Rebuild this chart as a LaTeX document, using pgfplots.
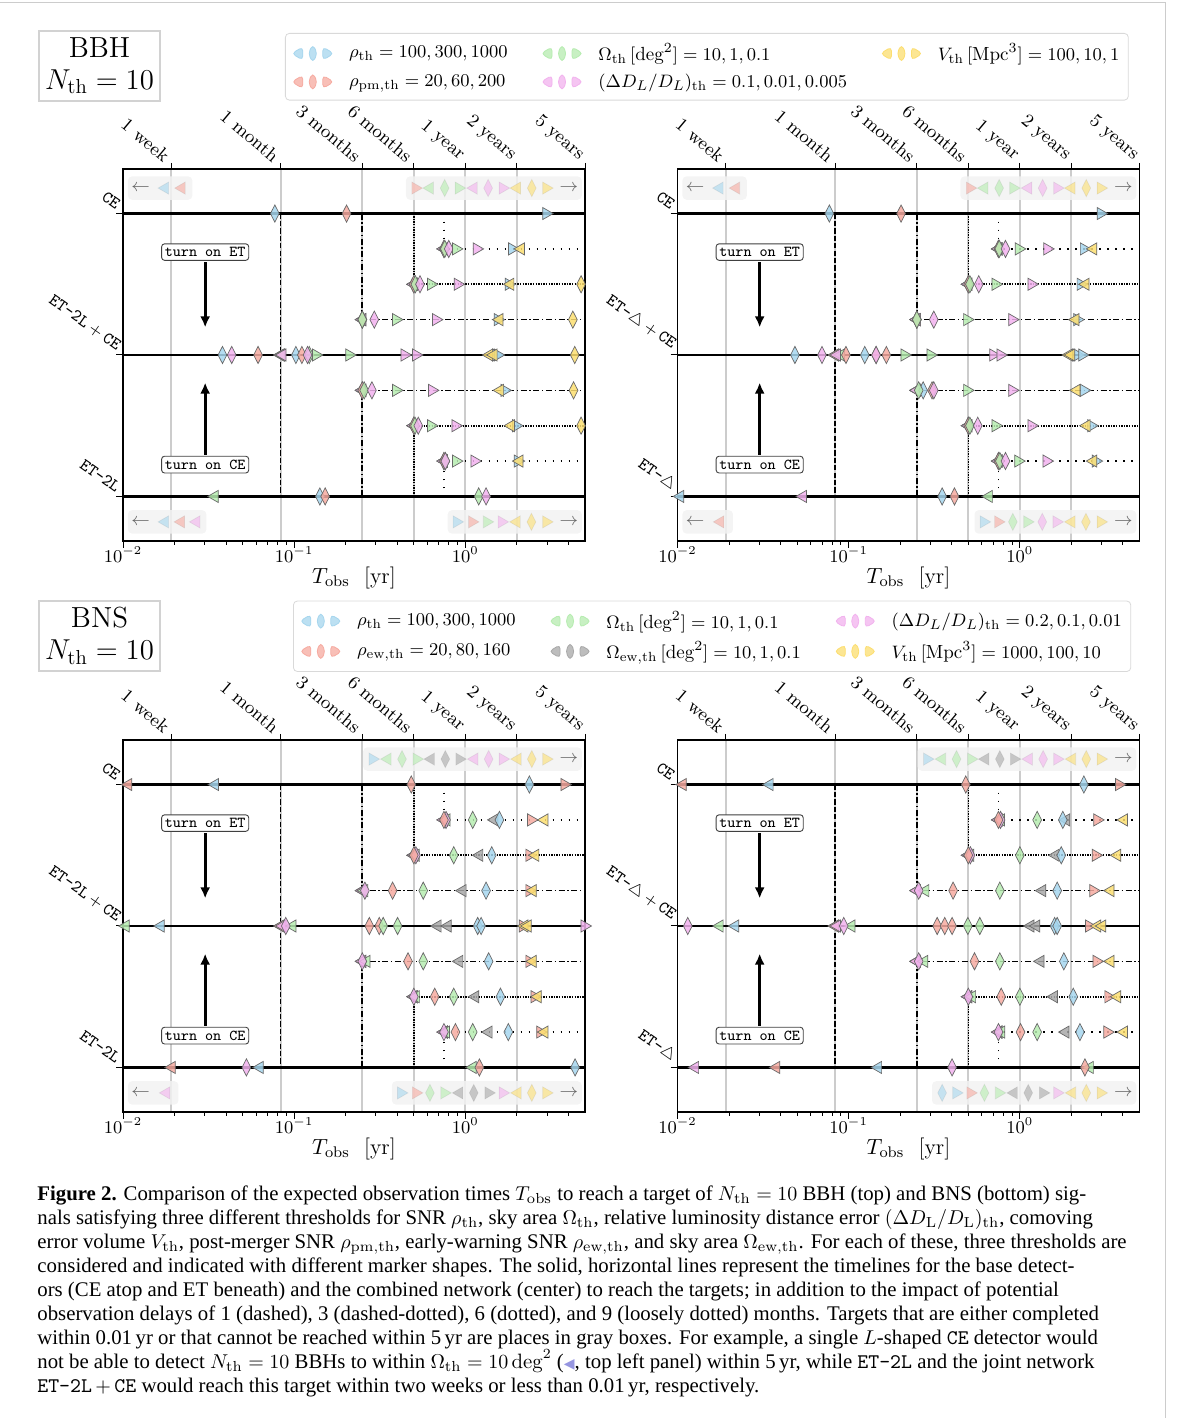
\documentclass[border=0pt]{standalone}
\usepackage{fontspec}
\usepackage{pgfplots}
\pgfplotsset{compat=1.18}
\usetikzlibrary{arrows.meta}
\newfontfamily\capfont{Liberation Serif}
\newfontfamily\djv{DejaVu Sans}

\definecolor{cB}{RGB}{166,214,238}
\definecolor{cR}{RGB}{246,170,160}
\definecolor{cG}{RGB}{182,236,176}
\definecolor{cP}{RGB}{242,178,238}
\definecolor{cY}{RGB}{252,222,112}
\definecolor{cK}{RGB}{168,168,168}
\definecolor{edgec}{RGB}{105,105,105}
\definecolor{gridc}{RGB}{204,204,204}
\definecolor{boxc}{RGB}{242,242,242}
\definecolor{capmk}{RGB}{150,150,225}

\newcommand\icon[1]{%
  \fill[#1, fill opacity=0.75] (0pt,0pt) -- (5.5pt,3.3pt) -- (5.5pt,-3.3pt) -- cycle;
  \fill[#1, fill opacity=0.75] (10.5pt,4.5pt) -- (12.8pt,0pt) -- (10.5pt,-4.5pt) -- (8.2pt,0pt) -- cycle;
  \fill[#1, fill opacity=0.75] (15.5pt,3.3pt) -- (21pt,0pt) -- (15.5pt,-3.3pt) -- cycle;}

\tikzset{tbox/.style={draw=black!75, rounded corners=1.5pt, fill=white, line width=0.45pt,
  inner xsep=1.6pt, inner ysep=1.8pt, font=\ttfamily\fontsize{7.6}{8}\selectfont}}

\pgfplotsset{
  mkbase/.style={only marks, forget plot},
  shl/.style={mark=triangle*, mark size=3.5pt, every mark/.append style={rotate=90}},
  shd/.style={mark=diamond*, mark size=4.3pt, every mark/.append style={xscale=0.68}},
  shr/.style={mark=triangle*, mark size=3.5pt, every mark/.append style={rotate=-90}},
  mcol/.style={every mark/.append style={fill=#1, draw=edgec, line width=0.35pt, fill opacity=0.85}},
  bl/.style={mkbase,shl,mcol=cB}, bd/.style={mkbase,shd,mcol=cB}, br/.style={mkbase,shr,mcol=cB},
  rl/.style={mkbase,shl,mcol=cR}, rd/.style={mkbase,shd,mcol=cR}, rr/.style={mkbase,shr,mcol=cR},
  gl/.style={mkbase,shl,mcol=cG}, gd/.style={mkbase,shd,mcol=cG}, gr/.style={mkbase,shr,mcol=cG},
  pl/.style={mkbase,shl,mcol=cP}, pd/.style={mkbase,shd,mcol=cP}, pr/.style={mkbase,shr,mcol=cP},
  yl/.style={mkbase,shl,mcol=cY}, yd/.style={mkbase,shd,mcol=cY}, yr/.style={mkbase,shr,mcol=cY},
  kl/.style={mkbase,shl,mcol=cK}, kd/.style={mkbase,shd,mcol=cK}, kr/.style={mkbase,shr,mcol=cK},
  boxmk/.style={every mark/.append style={draw opacity=0.12, fill opacity=0.6}},
  topax/.style={scale only axis, width=231pt, height=186pt, anchor=south west,
    xmin=-2, xmax=0.69897, ymin=0, ymax=1,
    axis x line*=top, axis y line=none,
    xtick={-1.71753,-1.07918,-0.60206,-0.30103,0,0.30103,0.69897},
    xticklabels={1 week,1 month,3 months,6 months,1 year,2 years,5 years},
    xticklabel style={rotate=-40, anchor=south east, inner sep=0pt, xshift=-3pt, yshift=-3pt, font=\fontsize{9.3}{10}\selectfont},
    xmajorgrids, major grid style={gridc, line width=0.9pt},
    tick align=outside, major tick length=3pt, tick style={black, line width=0.5pt},
    axis line style={line width=0.6pt}},
  mainax/.style={scale only axis, width=231pt, height=186pt, anchor=south west,
    xmin=-2, xmax=0.69897, ymin=-5.26, ymax=5.26,
    xtick={-2,-1,0}, xticklabels={$10^{-2}$,$10^{-1}$,$10^{0}$},
    minor xtick={-1.69897,-1.52288,-1.39794,-1.30103,-1.22185,-1.15490,-1.09691,-1.04576,
      -0.69897,-0.52288,-0.39794,-0.30103,-0.22185,-0.15490,-0.09691,-0.04576,0.30103,0.47712,0.60206},
    xtick pos=left, ytick pos=left, ytick={-4,0,4},
    tick align=outside, major tick length=3.5pt, minor tick length=2pt,
    tick style={black, line width=0.5pt}, axis line style={line width=0.6pt},
    xticklabel style={font=\fontsize{9}{10}\selectfont, yshift=4pt},
    yticklabel style={rotate=-35, anchor=south east, inner sep=1pt, font=\ttfamily\fontsize{8.5}{9}\selectfont},
    xlabel={$T_{\mathrm{obs}}$\ \ [yr]},
    xlabel style={font=\fontsize{11}{12}\selectfont, at={(axis description cs:0.5,-0.1)}, anchor=center},
    legend columns=3, legend cell align=left},
  legbox/.style={legend style={anchor=north west, draw=gray!30, rounded corners=2pt, fill=white,
    font=\fontsize{9.5}{11}\selectfont, inner xsep=3pt, inner ysep=3.5pt, row sep=2pt, column sep=6pt,
    nodes={inner sep=1.5pt}, /tikz/every even column/.append style={column sep=15pt}}},
}

\newcommand\mkp[2]{\addplot[#1] coordinates {#2};}
\newcommand\bmk[3]{\addplot[#1,boxmk] coordinates {(#2,#3)};}
\newcommand\gbox[4]{\fill[boxc, fill opacity=0.85, rounded corners=2pt] (axis cs:#1,#3) rectangle (axis cs:#2,#4);}
\newcommand\larr[1]{\node[text=black!60, font=\fontsize{9}{9}\selectfont, inner sep=0pt] at (axis cs:-1.897,#1) {$\leftarrow$};}
\newcommand\rarr[1]{\node[text=black!60, font=\fontsize{9}{9}\selectfont, inner sep=0pt] at (axis cs:0.604,#1) {$\rightarrow$};}

\newcommand\panellines{%
  \addplot[forget plot, no marks, black, line width=1.1pt] coordinates {(-2,4) (0.69897,4)};
  \addplot[forget plot, no marks, black, line width=1.1pt] coordinates {(-2,0) (0.69897,0)};
  \addplot[forget plot, no marks, black, line width=1.1pt] coordinates {(-2,-4) (0.69897,-4)};
  \addplot[forget plot, no marks, black, line width=0.8pt, dash pattern=on 2.6pt off 1.1pt] coordinates {(-1.07918,4) (-1.07918,-4)};
  \addplot[forget plot, no marks, black, line width=0.8pt, dash pattern=on 3pt off 1.3pt on 0.7pt off 1.3pt] coordinates {(-0.60206,4) (-0.60206,1) (0.69897,1)};
  \addplot[forget plot, no marks, black, line width=0.8pt, dash pattern=on 3pt off 1.3pt on 0.7pt off 1.3pt] coordinates {(-0.60206,-4) (-0.60206,-1) (0.69897,-1)};
  \addplot[forget plot, no marks, black, line width=0.8pt, dash pattern=on 0.7pt off 0.6pt] coordinates {(-0.30103,4) (-0.30103,2) (0.69897,2)};
  \addplot[forget plot, no marks, black, line width=0.8pt, dash pattern=on 0.7pt off 0.6pt] coordinates {(-0.30103,-4) (-0.30103,-2) (0.69897,-2)};
  \addplot[forget plot, no marks, black, line width=0.9pt, dash pattern=on 0.8pt off 3.2pt] coordinates {(-0.12494,4) (-0.12494,3) (0.69897,3)};
  \addplot[forget plot, no marks, black, line width=0.9pt, dash pattern=on 0.8pt off 3.2pt] coordinates {(-0.12494,-4) (-0.12494,-3) (0.69897,-3)};
}
\newcommand\turnon{%
  \node[tbox] at (axis cs:-1.52,2.91) {turn on ET};
  \draw[line width=1.4pt, -{Latex[length=5.5pt,width=5pt]}] (axis cs:-1.52,2.62) -- (axis cs:-1.52,0.78);
  \node[tbox] at (axis cs:-1.52,-3.1) {turn on CE};
  \draw[line width=1.4pt, -{Latex[length=5.5pt,width=5pt]}] (axis cs:-1.52,-2.82) -- (axis cs:-1.52,-0.78);
}

\begin{document}
\begin{tikzpicture}
\useasboundingbox (0,0) rectangle (591pt,709pt);
\draw[gray!40, line width=0.5pt] (0,707.5pt) -- (582.5pt,707.5pt) -- (582.5pt,0);

% title boxes
\node[draw=gray!35, line width=0.6pt, minimum width=60.5pt, minimum height=35pt, align=center,
  font=\fontsize{14.5}{16}\selectfont, inner sep=0pt] at (49.75pt,676pt) {BBH\\$N_{\mathrm{th}} = 10$};
\node[draw=gray!35, line width=0.6pt, minimum width=60.5pt, minimum height=35pt, align=center,
  font=\fontsize{14.5}{16}\selectfont, inner sep=0pt] at (49.75pt,391pt) {BNS\\$N_{\mathrm{th}} = 10$};

% ================= TOP LEFT (BBH, ET-2L + CE) =================
\begin{axis}[topax, at={(61.5pt,438.5pt)}]
\end{axis}
\begin{axis}[mainax, at={(61.5pt,438.5pt)},
  yticklabels={ET-2L, ET-2L${}+{}$CE, CE},
  legbox, legend style={at={(0.3506,1.3656)}}]
\addlegendimage{legend image code/.code={\icon{cB}}}\addlegendentry{$\rho_{\mathrm{th}} = 100, 300, 1000$}
\addlegendimage{legend image code/.code={\icon{cG}}}\addlegendentry{$\Omega_{\mathrm{th}}\,[\mathrm{deg}^2] = 10, 1, 0.1$}
\addlegendimage{legend image code/.code={\icon{cY}}}\addlegendentry{$V_{\mathrm{th}}\,[\mathrm{Mpc}^3] = 100, 10, 1$}
\addlegendimage{legend image code/.code={\icon{cR}}}\addlegendentry{$\rho_{\mathrm{pm,th}} = 20, 60, 200$}
\addlegendimage{legend image code/.code={\icon{cP}}}\addlegendentry{$(\Delta D_L/D_L)_{\mathrm{th}} = 0.1, 0.01, 0.005$}
\gbox{-1.971}{-1.595}{4.39}{5.05}\gbox{-0.347}{0.680}{4.39}{5.05}
\gbox{-1.971}{-1.513}{-5.05}{-4.39}\gbox{-0.103}{0.680}{-5.05}{-4.39}
\larr{4.72}\rarr{4.72}\larr{-4.72}\rarr{-4.72}
\panellines
\turnon
\bmk{bl}{-1.754}{4.72}\bmk{rl}{-1.657}{4.72}
\bmk{rr}{-0.292}{4.72}\bmk{gl}{-0.207}{4.72}\bmk{gd}{-0.121}{4.72}\bmk{gr}{-0.039}{4.72}\bmk{pl}{0.049}{4.72}
\bmk{pd}{0.133}{4.72}\bmk{pr}{0.218}{4.72}\bmk{yl}{0.302}{4.72}\bmk{yd}{0.388}{4.72}\bmk{yr}{0.472}{4.72}
\bmk{bl}{-1.754}{-4.72}\bmk{rl}{-1.661}{-4.72}\bmk{pl}{-1.571}{-4.72}
\bmk{br}{-0.051}{-4.72}\bmk{rr}{0.039}{-4.72}\bmk{gr}{0.125}{-4.72}\bmk{pr}{0.212}{-4.72}
\bmk{yl}{0.300}{-4.72}\bmk{yd}{0.386}{-4.72}\bmk{yr}{0.472}{-4.72}
\mkp{bl}{(-0.125,3) (-0.301,2) (-0.602,1) (-1.079,0) (-0.602,-1) (-0.301,-2) (-0.125,-3)}
\mkp{rl}{(-0.125,3) (-0.301,2) (-0.602,1) (-1.079,0) (-0.602,-1) (-0.301,-2) (-0.125,-3)}
\mkp{gl}{(-0.125,3) (-0.301,2) (-0.602,1) (-1.074,0) (-0.602,-1) (-0.301,-2) (-0.125,-3) (-1.464,-4)}
\mkp{pl}{(-0.125,3) (-0.301,2) (-0.602,1) (-1.068,0) (-0.602,-1) (-0.301,-2) (-0.125,-3)}
\mkp{bd}{(-1.113,4) (-0.125,3) (-0.301,2) (-0.602,1) (-1.419,0) (-0.990,0) (-0.602,-1) (-0.301,-2) (-0.125,-3) (-0.850,-4)}
\mkp{rd}{(-0.694,4) (-0.125,3) (-0.301,2) (-0.602,1) (-1.211,0) (-0.955,0) (-0.602,-1) (-0.301,-2) (-0.125,-3) (-0.819,-4)}
\mkp{gd}{(-0.120,3) (-0.292,2) (-0.602,1) (-0.912,0) (-0.591,-1) (-0.294,-2) (-0.117,-3) (0.078,-4)}
\mkp{pd}{(-0.097,3) (-0.265,2) (-0.532,1) (-1.365,0) (-0.922,0) (-0.546,-1) (-0.275,-2) (-0.117,-3) (0.121,-4)}
\mkp{gr}{(-0.055,3) (-0.201,2) (-0.405,1) (-0.873,0) (-0.678,0) (-0.405,-1) (-0.201,-2) (-0.055,-3)}
\mkp{pr}{(0.066,3) (-0.045,2) (-0.172,1) (-0.355,0) (-0.288,0) (-0.195,-1) (-0.058,-2) (0.053,-3)}
\mkp{br}{(0.472,4) (0.273,3) (0.253,2) (0.189,1) (0.179,0) (0.189,0) (0.228,-1) (0.296,-2) (0.306,-3)}
\mkp{yl}{(0.325,3) (0.263,2) (0.199,1) (0.140,0) (0.165,0) (0.203,-1) (0.267,-2) (0.316,-3)}
\mkp{yd}{(0.676,2) (0.628,1) (0.639,0) (0.632,-1) (0.676,-2)}
\end{axis}

% ================= TOP RIGHT (BBH, ET-tri + CE) =================
\begin{axis}[topax, at={(338.75pt,438.5pt)}]
\end{axis}
\begin{axis}[mainax, at={(338.75pt,438.5pt)},
  yticklabels={ET-$\triangle$, ET-$\triangle{}+{}$CE, CE}]
\gbox{-1.971}{-1.595}{4.39}{5.05}\gbox{-0.347}{0.680}{4.39}{5.05}
\gbox{-1.971}{-1.676}{-5.05}{-4.39}\gbox{-0.265}{0.680}{-5.05}{-4.39}
\larr{4.72}\rarr{4.72}\larr{-4.72}\rarr{-4.72}
\panellines
\turnon
\bmk{bl}{-1.754}{4.72}\bmk{rl}{-1.657}{4.72}
\bmk{rr}{-0.292}{4.72}\bmk{gl}{-0.207}{4.72}\bmk{gd}{-0.121}{4.72}\bmk{gr}{-0.039}{4.72}\bmk{pl}{0.049}{4.72}
\bmk{pd}{0.133}{4.72}\bmk{pr}{0.218}{4.72}\bmk{yl}{0.302}{4.72}\bmk{yd}{0.388}{4.72}\bmk{yr}{0.472}{4.72}
\bmk{rl}{-1.750}{-4.72}
\bmk{br}{-0.211}{-4.72}\bmk{rr}{-0.127}{-4.72}\bmk{gd}{-0.041}{-4.72}\bmk{gr}{0.043}{-4.72}\bmk{pd}{0.131}{-4.72}
\bmk{pr}{0.214}{-4.72}\bmk{yl}{0.302}{-4.72}\bmk{yd}{0.386}{-4.72}\bmk{yr}{0.472}{-4.72}
\mkp{bl}{(-0.125,3) (-0.301,2) (-0.602,1) (-1.079,0) (-0.602,-1) (-0.301,-2) (-0.125,-3) (-1.984,-4)}
\mkp{rl}{(-0.125,3) (-0.301,2) (-0.602,1) (-1.079,0) (-0.602,-1) (-0.301,-2) (-0.125,-3)}
\mkp{gl}{(-0.125,3) (-0.301,2) (-0.602,1) (-1.045,0) (-0.602,-1) (-0.301,-2) (-0.125,-3) (-0.181,-4)}
\mkp{pl}{(-0.125,3) (-0.301,2) (-0.602,1) (-1.068,0) (-0.602,-1) (-0.301,-2) (-0.125,-3) (-1.267,-4)}
\mkp{bd}{(-1.113,4) (-0.125,3) (-0.301,2) (-0.602,1) (-1.314,0) (-0.906,0) (-0.565,-1) (-0.301,-2) (-0.125,-3) (-0.454,-4)}
\mkp{rd}{(-0.694,4) (-0.125,3) (-0.301,2) (-0.602,1) (-1.016,0) (-0.840,0) (-0.780,0) (-0.513,-1) (-0.301,-2) (-0.125,-3) (-0.382,-4)}
\mkp{gd}{(-0.120,3) (-0.292,2) (-0.602,1) (-0.591,-1) (-0.292,-2) (-0.117,-3)}
\mkp{pd}{(-0.084,3) (-0.240,2) (-0.503,1) (-1.156,0) (-0.840,0) (-0.503,-1) (-0.246,-2) (-0.084,-3)}
\mkp{gr}{(-0.006,3) (-0.142,2) (-0.308,1) (-0.674,0) (-0.522,0) (-0.308,-1) (-0.142,-2) (-0.010,-3)}
\mkp{pr}{(0.160,3) (0.068,2) (-0.045,1) (-0.156,0) (-0.113,0) (-0.045,-1) (0.068,-2) (0.156,-3)}
\mkp{br}{(0.472,4) (0.374,3) (0.355,2) (0.335,1) (0.335,0) (0.364,0) (0.374,-1) (0.417,-2) (0.443,-3)}
\mkp{yl}{(0.429,3) (0.384,2) (0.325,1) (0.287,0) (0.300,0) (0.331,-1) (0.390,-2) (0.429,-3)}
\end{axis}

% ================= BOTTOM LEFT (BNS, ET-2L + CE) =================
\begin{axis}[topax, at={(61.5pt,153pt)}]
\end{axis}
\begin{axis}[mainax, at={(61.5pt,153pt)},
  yticklabels={ET-2L, ET-2L${}+{}$CE, CE},
  legbox, legend style={at={(0.368,1.3747)}}]
\addlegendimage{legend image code/.code={\icon{cB}}}\addlegendentry{$\rho_{\mathrm{th}} = 100, 300, 1000$}
\addlegendimage{legend image code/.code={\icon{cG}}}\addlegendentry{$\Omega_{\mathrm{th}}\,[\mathrm{deg}^2] = 10, 1, 0.1$}
\addlegendimage{legend image code/.code={\icon{cP}}}\addlegendentry{$(\Delta D_L/D_L)_{\mathrm{th}} = 0.2, 0.1, 0.01$}
\addlegendimage{legend image code/.code={\icon{cR}}}\addlegendentry{$\rho_{\mathrm{ew,th}} = 20, 80, 160$}
\addlegendimage{legend image code/.code={\icon{cK}}}\addlegendentry{$\Omega_{\mathrm{ew,th}}\,[\mathrm{deg}^2] = 10, 1, 0.1$}
\addlegendimage{legend image code/.code={\icon{cY}}}\addlegendentry{$V_{\mathrm{th}}\,[\mathrm{Mpc}^3] = 1000, 100, 10$}
\gbox{-0.597}{0.680}{4.39}{5.05}
\gbox{-1.971}{-1.676}{-5.05}{-4.39}\gbox{-0.429}{0.680}{-5.05}{-4.39}
\rarr{4.72}\larr{-4.72}\rarr{-4.72}
\panellines
\turnon
\bmk{br}{-0.542}{4.72}\bmk{gl}{-0.454}{4.72}\bmk{gd}{-0.370}{4.72}\bmk{gr}{-0.285}{4.72}\bmk{kl}{-0.201}{4.72}
\bmk{kd}{-0.117}{4.72}\bmk{kr}{-0.035}{4.72}\bmk{pl}{0.053}{4.72}\bmk{pd}{0.136}{4.72}\bmk{pr}{0.218}{4.72}
\bmk{yl}{0.306}{4.72}\bmk{yd}{0.388}{4.72}\bmk{yr}{0.472}{4.72}
\bmk{pl}{-1.747}{-4.72}
\bmk{br}{-0.376}{-4.72}\bmk{rr}{-0.289}{-4.72}\bmk{gd}{-0.207}{-4.72}\bmk{gr}{-0.123}{-4.72}\bmk{kl}{-0.035}{-4.72}
\bmk{kd}{0.049}{-4.72}\bmk{kr}{0.135}{-4.72}\bmk{pr}{0.218}{-4.72}\bmk{yl}{0.306}{-4.72}\bmk{yd}{0.388}{-4.72}\bmk{yr}{0.472}{-4.72}
\mkp{bl}{(-1.462,4) (-0.125,3) (-0.301,2) (-0.602,1) (-1.780,0) (-1.079,0) (-0.602,-1) (-0.301,-2) (-0.125,-3) (-1.201,-4)}
\mkp{rl}{(-1.969,4) (-0.125,3) (-0.301,2) (-0.602,1) (-1.079,0) (-0.602,-1) (-0.301,-2) (-0.125,-3) (-1.715,-4)}
\mkp{pl}{(-0.125,3) (-0.301,2) (-0.602,1) (-1.068,0) (-0.602,-1) (-0.301,-2) (-0.125,-3)}
\mkp{gl}{(-0.110,3) (-0.290,2) (-0.590,1) (-1.984,0) (-1.010,0) (-0.577,-1) (-0.289,-2) (-0.113,-3) (0.043,-4)}
\mkp{pd}{(-0.113,3) (-0.289,2) (-0.587,1) (-1.049,0) (-0.602,-1) (-0.301,-2) (-0.125,-3) (-1.279,-4)}
\mkp{rd}{(-0.316,4) (-0.125,3) (-0.301,2) (-0.425,1) (-0.561,0) (-0.503,0) (-0.335,-1) (-0.179,-2) (-0.058,-3) (0.082,-4)}
\mkp{gd}{(0.043,3) (-0.068,2) (-0.246,1) (-0.480,0) (-0.396,0) (-0.246,-1) (-0.068,-2) (0.043,-3)}
\mkp{kl}{(0.170,3) (0.082,2) (-0.016,1) (-0.162,0) (-0.103,0) (-0.035,-1) (0.058,-2) (0.136,-3)}
\mkp{bd}{(0.374,4) (0.199,3) (0.154,2) (0.121,1) (0.072,0) (0.092,0) (0.136,-1) (0.205,-2) (0.251,-3) (0.641,-4)}
\mkp{rr}{(0.579,4) (0.384,3) (0.374,2) (0.374,1) (0.335,0) (0.374,-1) (0.404,-2) (0.437,-3)}
\mkp{yl}{(0.462,3) (0.409,2) (0.394,1) (0.345,0) (0.364,0) (0.394,-1) (0.423,-2) (0.462,-3)}
\mkp{pr}{(0.696,0)}
\end{axis}

% ================= BOTTOM RIGHT (BNS, ET-tri + CE) =================
\begin{axis}[topax, at={(338.75pt,153pt)}]
\end{axis}
\begin{axis}[mainax, at={(338.75pt,153pt)},
  yticklabels={ET-$\triangle$, ET-$\triangle{}+{}$CE, CE}]
\gbox{-0.597}{0.680}{4.39}{5.05}
\gbox{-0.513}{0.680}{-5.05}{-4.39}
\rarr{4.72}\rarr{-4.72}
\panellines
\turnon
\bmk{br}{-0.542}{4.72}\bmk{gl}{-0.454}{4.72}\bmk{gd}{-0.370}{4.72}\bmk{gr}{-0.285}{4.72}\bmk{kl}{-0.201}{4.72}
\bmk{kd}{-0.117}{4.72}\bmk{kr}{-0.035}{4.72}\bmk{pl}{0.053}{4.72}\bmk{pd}{0.136}{4.72}\bmk{pr}{0.218}{4.72}
\bmk{yl}{0.306}{4.72}\bmk{yd}{0.388}{4.72}\bmk{yr}{0.472}{4.72}
\bmk{bd}{-0.454}{-4.72}\bmk{br}{-0.372}{-4.72}\bmk{rr}{-0.289}{-4.72}\bmk{gd}{-0.207}{-4.72}\bmk{gr}{-0.123}{-4.72}
\bmk{kl}{-0.035}{-4.72}\bmk{kd}{0.049}{-4.72}\bmk{kr}{0.135}{-4.72}\bmk{pr}{0.218}{-4.72}\bmk{yl}{0.306}{-4.72}
\bmk{yd}{0.388}{-4.72}\bmk{yr}{0.472}{-4.72}
\mkp{bl}{(-1.462,4) (-0.125,3) (-0.301,2) (-0.602,1) (-1.663,0) (-1.079,0) (-0.602,-1) (-0.301,-2) (-0.125,-3) (-0.828,-4)}
\mkp{rl}{(-1.969,4) (-0.125,3) (-0.301,2) (-0.602,1) (-1.079,0) (-0.602,-1) (-0.301,-2) (-0.125,-3) (-1.423,-4)}
\mkp{pl}{(-0.125,3) (-0.301,2) (-0.602,1) (-1.068,0) (-0.602,-1) (-0.301,-2) (-0.125,-3) (-1.897,-4)}
\mkp{gl}{(-0.110,3) (-0.290,2) (-0.552,1) (-1.754,0) (-0.984,0) (-0.558,-1) (-0.279,-2) (-0.109,-3) (0.409,-4)}
\mkp{pd}{(-0.113,3) (-0.289,2) (-0.591,1) (-1.940,0) (-1.029,0) (-0.591,-1) (-0.301,-2) (-0.125,-3) (-0.396,-4)}
\mkp{rd}{(-0.316,4) (-0.125,3) (-0.301,2) (-0.390,1) (-0.483,0) (-0.439,0) (-0.396,0) (-0.265,-1) (-0.109,-2) (0.004,-3) (0.380,-4)}
\mkp{gd}{(0.101,3) (0.000,2) (-0.117,1) (-0.304,0) (-0.234,0) (-0.117,-1) (0.000,-2) (0.101,-3)}
\mkp{kl}{(0.271,3) (0.209,2) (0.131,1) (0.062,0) (0.096,0) (0.121,-1) (0.199,-2) (0.267,-3)}
\mkp{bd}{(0.374,4) (0.251,3) (0.242,2) (0.218,1) (0.203,0) (0.218,0) (0.257,-1) (0.312,-2) (0.351,-3)}
\mkp{rr}{(0.579,4) (0.452,3) (0.443,2) (0.429,1) (0.404,0) (0.448,-1) (0.517,-2) (0.511,-3)}
\mkp{yl}{(0.608,3) (0.569,2) (0.530,1) (0.452,0) (0.481,0) (0.530,-1) (0.569,-2) (0.608,-3)}
\end{axis}

% ================= caption =================
\node[anchor=north west, inner sep=0pt, align=left, font=\capfont\fontsize{10.4}{12}\selectfont] at (18.5pt,116.5pt) {%
{\bfseries Figure 2.} Comparison of the expected observation times $T_{\mathrm{obs}}$ to reach a target of $N_{\mathrm{th}} = 10$ BBH (top) and BNS (bottom) sig-\\
nals satisfying three different thresholds for SNR $\rho_{\mathrm{th}}$, sky area $\Omega_{\mathrm{th}}$, relative luminosity distance error $(\Delta D_{\mathrm{L}}/D_{\mathrm{L}})_{\mathrm{th}}$, comoving\\
error volume $V_{\mathrm{th}}$, post-merger SNR $\rho_{\mathrm{pm,th}}$, early-warning SNR $\rho_{\mathrm{ew,th}}$, and sky area $\Omega_{\mathrm{ew,th}}$. For each of these, three thresholds are\\
considered and indicated with different marker shapes. The solid, horizontal lines represent the timelines for the base detect-\\
ors (CE atop and ET beneath) and the combined network (center) to reach the targets; in addition to the impact of potential\\
observation delays of 1 (dashed), 3 (dashed-dotted), 6 (dotted), and 9 (loosely dotted) months. Targets that are either completed\\
within 0.01\,yr or that cannot be reached within 5\,yr are places in gray boxes. For example, a single $L$-shaped \texttt{CE} detector would\\
not be able to detect $N_{\mathrm{th}} = 10$ BBHs to within $\Omega_{\mathrm{th}} = 10\,\mathrm{deg}^2$ ({\djv\fontsize{7}{8}\selectfont\color{capmk}◀}, top left panel) within 5\,yr, while \texttt{ET-2L} and the joint network\\
\texttt{ET-2L}\,$+$\,\texttt{CE} would reach this target within two weeks or less than 0.01\,yr, respectively.};
\end{tikzpicture}
\end{document}
